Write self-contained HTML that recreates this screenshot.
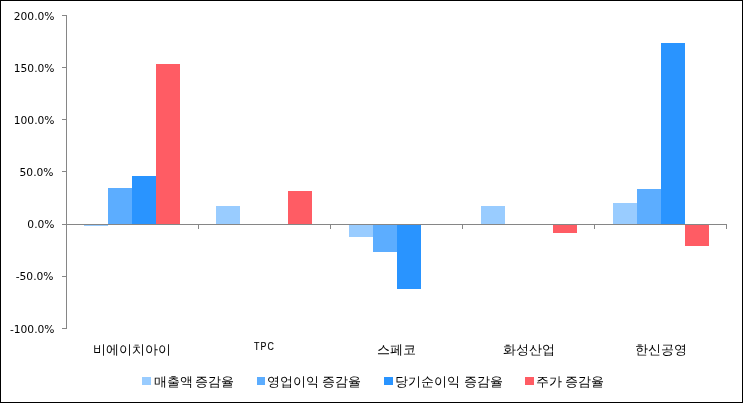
<!DOCTYPE html>
<html lang="ko">
<head>
<meta charset="utf-8">
<title>증감율 비교</title>
<style>
html,body{margin:0;padding:0;background:#fff;}
body{width:743px;height:403px;overflow:hidden;position:relative;}
svg{display:block;position:absolute;left:0;top:0;}
.ax{font-family:"DejaVu Sans","Liberation Sans",sans-serif;font-size:10.7px;fill:#000;}
.tpc{font-family:"Liberation Sans","DejaVu Sans",sans-serif;font-size:11px;letter-spacing:1.4px;fill:#000;stroke:#000;stroke-width:0.12px;}
.ko{font-family:"WenQuanYi Zen Hei","NanumGothic","Noto Sans CJK KR",sans-serif;font-size:13px;fill:#000;}
</style>
</head>
<body>
<svg width="743" height="403" viewBox="0 0 743 403">
  <rect x="0" y="0" width="743" height="403" fill="#fff"/>
  <!-- bars -->
  <g shape-rendering="crispEdges">
    <g fill="#99CCFF">
      <rect x="84" y="225" width="24" height="1"/>
      <rect x="216" y="206" width="24" height="18"/>
      <rect x="349" y="225" width="24" height="12"/>
      <rect x="481" y="206" width="24" height="18"/>
      <rect x="613" y="203" width="24" height="21"/>
    </g>
    <g fill="#5CADFF">
      <rect x="108" y="188" width="24" height="36"/>
      <rect x="373" y="225" width="24" height="27"/>
      <rect x="637" y="189" width="24" height="35"/>
    </g>
    <g fill="#2994FF">
      <rect x="132" y="176" width="24" height="48"/>
      <rect x="397" y="225" width="24" height="64"/>
      <rect x="661" y="43" width="24" height="181"/>
    </g>
    <g fill="#FF5C64">
      <rect x="156" y="64" width="24" height="160"/>
      <rect x="288" y="191" width="24" height="33"/>
      <rect x="553" y="225" width="24" height="8"/>
      <rect x="685" y="225" width="24" height="21"/>
    </g>
    <!-- axes -->
    <g fill="#868686">
      <rect x="66" y="15" width="1" height="314"/>
      <rect x="62" y="15" width="4" height="1"/>
      <rect x="62" y="67" width="4" height="1"/>
      <rect x="62" y="119" width="4" height="1"/>
      <rect x="62" y="171" width="4" height="1"/>
      <rect x="62" y="224" width="4" height="1"/>
      <rect x="62" y="276" width="4" height="1"/>
      <rect x="62" y="328" width="4" height="1"/>
      <rect x="66" y="224" width="661" height="1"/>
      <rect x="198" y="224" width="1" height="5"/>
      <rect x="330" y="224" width="1" height="5"/>
      <rect x="462" y="224" width="1" height="5"/>
      <rect x="594" y="224" width="1" height="5"/>
      <rect x="726" y="224" width="1" height="5"/>
    </g>
    <!-- legend swatches -->
    <rect x="142" y="377" width="9" height="8" fill="#99CCFF"/>
    <rect x="257" y="377" width="8" height="8" fill="#5CADFF"/>
    <rect x="384" y="377" width="9" height="8" fill="#2994FF"/>
    <rect x="525" y="377" width="9" height="8" fill="#FF5C64"/>
  </g>
  <!-- y axis labels -->
  <g class="ax" text-anchor="end">
    <text x="54.5" y="20">200.0%</text>
    <text x="54.5" y="72">150.0%</text>
    <text x="54.5" y="124">100.0%</text>
    <text x="53.5" y="176">50.0%</text>
    <text x="54.5" y="228">0.0%</text>
    <text x="53.5" y="280">-50.0%</text>
    <text x="54.5" y="333">-100.0%</text>
  </g>
  <!-- category labels -->
  <g class="ko">
    <text x="93" y="354">비에이치아이</text>
    <text class="tpc" transform="translate(254,350) scale(0.8,1)" x="0" y="0">TPC</text>
    <text x="377" y="354">스페코</text>
    <text x="503" y="354">화성산업</text>
    <text x="635" y="354">한신공영</text>
  </g>
  <!-- legend labels -->
  <g class="ko">
    <text x="154" y="386">매출액 <tspan x="195">증감율</tspan></text>
    <text x="267" y="386">영업이익 <tspan x="322">증감율</tspan></text>
    <text x="395" y="386">당기순이익 <tspan x="464">증감율</tspan></text>
    <text x="536" y="386">주가 <tspan x="565">증감율</tspan></text>
  </g>
  <!-- outer border -->
  <rect x="0.5" y="0.5" width="742" height="402" fill="none" stroke="#000" stroke-width="1" shape-rendering="crispEdges"/>
</svg>
</body>
</html>
